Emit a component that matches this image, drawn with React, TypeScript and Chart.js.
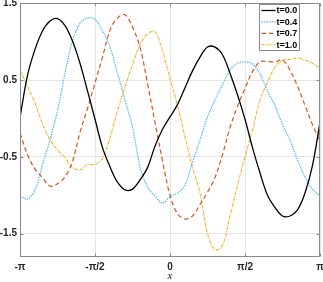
import React, { useEffect, useRef } from 'react';
import { Chart, registerables } from 'chart.js';

Chart.register(...registerables);

// x positions in multiples of pi
const X_PI = [
  -1, -0.95, -0.9, -0.85, -0.8, -0.75, -0.7, -0.65, -0.6, -0.55,
  -0.5, -0.45, -0.4, -0.35, -0.3, -0.25, -0.2, -0.15, -0.1, -0.05,
  0, 0.05, 0.1, 0.15, 0.2, 0.25, 0.3, 0.35, 0.4, 0.45,
  0.5, 0.55, 0.6, 0.65, 0.7, 0.75, 0.8, 0.85, 0.9, 0.95, 1,
];

const T00 = [
  0.01, 0.56, 0.9, 1.14, 1.27, 1.3, 1.21, 1.01, 0.72, 0.36,
  -0.01, -0.38, -0.63, -0.83, -0.93, -0.92, -0.8, -0.64, -0.36, -0.14,
  0.02, 0.18, 0.4, 0.62, 0.8, 0.93, 0.93, 0.83, 0.59, 0.31,
  -0.01, -0.38, -0.71, -1.0, -1.16, -1.27, -1.27, -1.19, -0.97, -0.61, -0.05,
];

const T04 = [
  -1.01, -1.05, -0.93, -0.6, -0.28, 0.1, 0.59, 1.01, 1.24, 1.31,
  1.29, 1.14, 0.93, 0.59, 0.24, -0.11, -0.63, -0.89, -1.01, -1.1,
  -1.02, -0.97, -0.87, -0.57, -0.28, 0.02, 0.24, 0.44, 0.63, 0.72,
  0.74, 0.71, 0.58, 0.36, 0.17, -0.08, -0.28, -0.54, -0.76, -0.92, -1.01,
];

const T07 = [
  -0.19, -0.47, -0.66, -0.77, -0.88, -0.85, -0.76, -0.56, -0.18, 0.13,
  0.46, 0.8, 1.15, 1.31, 1.35, 1.19, 0.93, 0.46, -0.05, -0.55,
  -1.0, -1.24, -1.31, -1.27, -1.12, -0.96, -0.77, -0.47, -0.12, 0.16,
  0.39, 0.61, 0.74, 0.74, 0.74, 0.76, 0.63, 0.42, 0.17, -0.08, -0.3,
];

const T10 = [
  0.63, 0.42, 0.2, -0.07, -0.28, -0.41, -0.51, -0.64, -0.67, -0.6,
  -0.6, -0.52, -0.25, 0.1, 0.41, 0.7, 0.96, 1.1, 1.13, 0.88,
  0.52, 0.17, -0.24, -0.64, -0.97, -1.5, -1.71, -1.65, -1.27, -0.87,
  -0.5, -0.15, 0.24, 0.47, 0.67, 0.76, 0.77, 0.79, 0.76, 0.72, 0.65,
];

const SERIES_LABELS = ['t=0.0', 't=0.4', 't=0.7', 't=1.0'];
const SERIES_VALUES = [T00, T04, T07, T10];
const SERIES_COLORS = ['#000000', '#4DBEEE', '#D95319', '#EDB120'];
const SERIES_DASHES: number[][] = [[], [1.5, 1], [4.5, 3], [3, 1, 1, 1]];
const SERIES_WIDTHS = [1.3, 1.2, 1.2, 1.1];

const X_TICKS_PI = [-1, -0.5, 0, 0.5, 1];
const X_TICK_LABELS = ['-π', '-π/2', '0', 'π/2', 'π'];
const Y_TICKS = [-1.5, -0.5, 0.5, 1.5];
const Y_TICK_LABELS = ['-1.5', '-0.5', '0.5', '1.5'];
const Y_MIN = -1.8;
const Y_MAX = 1.5;

const AXIS_COLOR = '#8a8a8a';
const GRID_COLOR = '#e6e6e6';
const TEXT_COLOR = '#262626';

const framePlugin = {
  id: 'frameAndLegend',
  afterDraw(chart: any) {
    const { ctx, chartArea: a, scales } = chart;
    ctx.save();
    const L = Math.round(a.left) + 0.5;
    const R = Math.round(a.right) - 0.5;
    const T = Math.round(a.top) + 0.5;
    const B = Math.round(a.bottom) - 0.5;
    ctx.strokeStyle = AXIS_COLOR;
    ctx.lineWidth = 1;
    ctx.setLineDash([]);
    ctx.beginPath();
    ctx.rect(L, T, R - L, B - T);
    ctx.stroke();
    // inward ticks
    const tl = 3;
    ctx.beginPath();
    X_TICKS_PI.forEach((k) => {
      const px = Math.round(scales.x.getPixelForValue(k * Math.PI)) + 0.5;
      ctx.moveTo(px, B);
      ctx.lineTo(px, B - tl);
      ctx.moveTo(px, T);
      ctx.lineTo(px, T + tl);
    });
    Y_TICKS.forEach((v) => {
      const py = Math.round(scales.y.getPixelForValue(v)) + 0.5;
      ctx.moveTo(L, py);
      ctx.lineTo(L + tl, py);
      ctx.moveTo(R, py);
      ctx.lineTo(R - tl, py);
    });
    ctx.stroke();

    // legend box
    const ds = chart.data.datasets;
    const bx = Math.round(a.right - 61) + 0.5;
    const by = Math.round(a.top + 1) + 0.5;
    const bw = 40;
    const rowH = 11.4;
    const bh = 46;
    ctx.fillStyle = '#ffffff';
    ctx.fillRect(bx, by, bw, bh);
    ctx.strokeStyle = AXIS_COLOR;
    ctx.lineWidth = 1;
    ctx.strokeRect(bx, by, bw, bh);
    ctx.font = 'bold 9px "Liberation Sans", Arial, sans-serif';
    ctx.textBaseline = 'middle';
    ctx.textAlign = 'left';
    ds.forEach((d: any, i: number) => {
      const y = by + 6 + i * rowH;
      ctx.beginPath();
      ctx.setLineDash(d.borderDash || []);
      ctx.strokeStyle = d.borderColor;
      ctx.lineWidth = d.borderWidth;
      ctx.moveTo(bx + 2, y);
      ctx.lineTo(bx + 16, y);
      ctx.stroke();
      ctx.setLineDash([]);
      ctx.fillStyle = '#000000';
      ctx.fillText(d.label, bx + 17, y + 0.5);
    });
    ctx.restore();
  },
};

export default function App() {
  const ref = useRef<HTMLCanvasElement | null>(null);

  useEffect(() => {
    if (!ref.current) return;
    const datasets = SERIES_LABELS.map((label, s) => ({
      label,
      data: X_PI.map((k, i) => ({ x: k * Math.PI, y: SERIES_VALUES[s][i] })),
      borderColor: SERIES_COLORS[s],
      backgroundColor: SERIES_COLORS[s],
      borderWidth: SERIES_WIDTHS[s],
      borderDash: SERIES_DASHES[s],
      pointRadius: 0,
      tension: 0.35,
      fill: false,
    }));
    const tickFont = { family: '"Liberation Sans", Arial, sans-serif', size: 10, weight: 'bold' as const };
    const chart = new Chart(ref.current, {
      type: 'line',
      data: { datasets },
      options: {
        animation: false,
        responsive: false,
        maintainAspectRatio: false,
        layout: { padding: { left: 0, right: 3, top: 3.3, bottom: 0 } },
        plugins: { legend: { display: false }, tooltip: { enabled: false } },
        scales: {
          x: {
            type: 'linear',
            min: -Math.PI,
            max: Math.PI,
            afterBuildTicks: (s: any) => {
              s.ticks = X_TICKS_PI.map((k) => ({ value: k * Math.PI }));
            },
            afterFit: (s: any) => {
              s.height = 25.3;
              s.paddingLeft = 0;
              s.paddingRight = 0;
            },
            ticks: {
              autoSkip: false,
              maxRotation: 0,
              padding: 5,
              color: TEXT_COLOR,
              font: tickFont,
              callback: (_v: any, i: number) => X_TICK_LABELS[i],
            },
            grid: { color: GRID_COLOR, drawTicks: false },
            border: { display: false },
            title: {
              display: true,
              text: 'x',
              color: TEXT_COLOR,
              padding: 0,
              font: { family: '"Liberation Serif", "Times New Roman", serif', style: 'italic', size: 11, lineHeight: 1 },
            },
          },
          y: {
            type: 'linear',
            min: Y_MIN,
            max: Y_MAX,
            afterBuildTicks: (s: any) => {
              s.ticks = Y_TICKS.map((v) => ({ value: v }));
            },
            afterFit: (s: any) => {
              s.width = 20;
              s.paddingTop = 0;
              s.paddingBottom = 0;
            },
            ticks: {
              autoSkip: false,
              padding: 3,
              color: TEXT_COLOR,
              font: tickFont,
              callback: (_v: any, i: number) => Y_TICK_LABELS[i],
            },
            grid: { color: GRID_COLOR, drawTicks: false },
            border: { display: false },
          },
        },
      },
      plugins: [framePlugin],
    });
    return () => chart.destroy();
  }, []);

  return (
    <div style={{ position: 'fixed', left: 0, top: 0, width: 323, height: 282, background: '#fff' }}>
      <canvas ref={ref} width={323} height={282} style={{ display: 'block' }} />
    </div>
  );
}
